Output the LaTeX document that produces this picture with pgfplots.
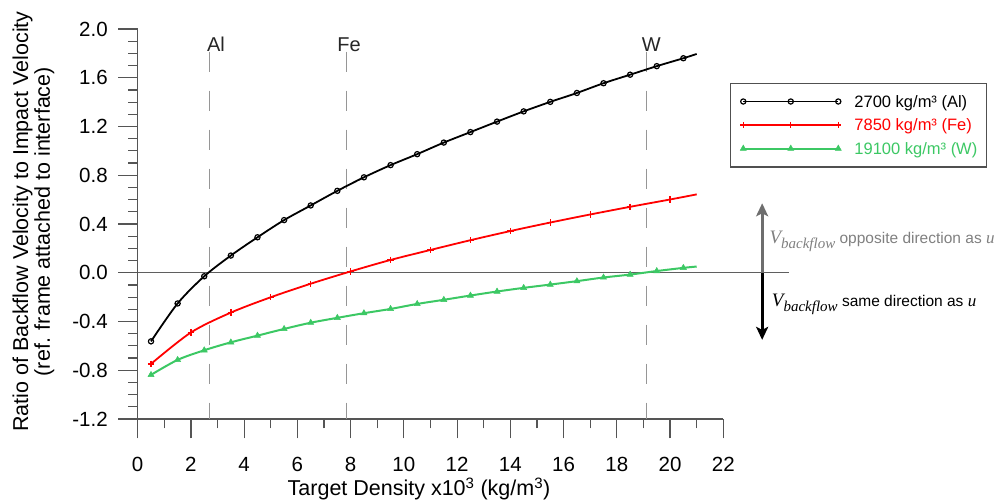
\documentclass[border=0pt]{standalone}
\usepackage{fontspec}
\setmainfont{Liberation Sans}
\newfontfamily\serifit{Liberation Serif}
\usepackage{pgfplots}
\pgfplotsset{compat=1.18}
\usetikzlibrary{arrows.meta}
\definecolor{axisgray}{RGB}{85,85,85}
\definecolor{zerogray}{RGB}{95,95,95}
\definecolor{dashgray}{RGB}{150,150,150}
\definecolor{legendgray}{RGB}{80,80,80}
\definecolor{arrowgray}{RGB}{110,110,110}
\definecolor{textgray}{RGB}{128,128,128}
\definecolor{wgreen}{RGB}{60,200,100}
\definecolor{fered}{RGB}{255,0,0}
\begin{document}
\begin{tikzpicture}[x=1pt,y=1pt]
\begin{axis}[
  at={(137.7pt,83pt)}, anchor=south west,
  scale only axis, width=585.6pt, height=390pt,
  xmin=0, xmax=22, ymin=-1.2, ymax=2.0,
  axis line style={draw=none},
  xtick pos=lower, ytick pos=left,
  clip=false,
  xtick={0,2,...,22}, minor x tick num=1,
  ytick={-1.2,-0.8,-0.4,0,0.4,0.8,1.2,1.6,2.0}, minor y tick num=3,
  tick align=outside,
  major tick length=19.5pt, minor tick length=9.5pt,
  tick style={draw=axisgray, line width=1.2pt},
  /pgf/number format/assume math mode=true,
  tick label style={font=\fontsize{20.5}{24}\selectfont, text=black},
  yticklabel style={xshift=-7pt, /pgf/number format/.cd, fixed, fixed zerofill, precision=1},
  xticklabel style={yshift=-15pt, /pgf/number format/.cd, fixed, precision=0},
  every axis x label/.style={at={(axis description cs:0.4804,-0.197)}, anchor=base, inner sep=0pt, font=\fontsize{21.5}{24}\selectfont},
  every axis y label/.style={at={(axis description cs:-0.178,0.506)}, rotate=90, anchor=center, align=center, inner sep=0pt, font=\fontsize{21.5}{21.7}\selectfont},
  xlabel={Target Density x10\textsuperscript{3} (kg/m\textsuperscript{3})},
  ylabel={Ratio of Backflow Velocity to Impact Velocity\\(ref. frame attached to interface)},
  legend style={at={(1.0114,0.8628)}, anchor=north west, draw=legendgray, line width=1.2pt, fill=white,
    inner xsep=9.5pt, inner ysep=12.5pt, row sep=11.75pt, font=\fontsize{16.5}{19}\selectfont,
    nodes={inner sep=0pt, text height=11.8pt, text depth=0pt},
    /tikz/every odd column/.append style={column sep=13pt}},
  legend cell align=left,
  legend image code/.code={\draw[mark repeat=1,mark phase=1] plot coordinates {(0pt,0pt) (47.5pt,0pt) (95pt,0pt)};},
]
\draw[axisgray, line width=1.2pt] (rel axis cs:0,1) -- (rel axis cs:0,0) -- (rel axis cs:1,0);
\draw[zerogray, line width=1.3pt] (axis cs:0,0) -- (axis cs:24.48,0);
\foreach \xx in {2.7,7.85,19.1}{
  \edef\tmp{\noexpand\draw[dashgray, line width=1.2pt, dash pattern=on 20pt off 19pt] (axis cs:\xx,1.814) -- (axis cs:\xx,-1.2);}\tmp
}
\addplot[black, line width=1.8pt, smooth, mark=o, mark size=2.6pt, mark indices={1,...,21}, mark options={line width=1.2pt, solid}] table {
x y
0.5 -0.563
1.5 -0.252
2.5 -0.029
3.5 0.141
4.5 0.291
5.5 0.432
6.5 0.552
7.5 0.672
8.5 0.783
9.5 0.883
10.5 0.973
11.5 1.068
12.5 1.154
13.5 1.240
14.5 1.324
15.5 1.402
16.5 1.475
17.5 1.555
18.5 1.625
19.5 1.695
20.5 1.760
21 1.795
};
\addlegendentry{2700 kg/m³ (Al)}
\addplot[fered, line width=1.8pt, smooth, mark=+, mark size=3.2pt, mark indices={1,...,14}, mark options={line width=1.3pt, solid}] table {
x y
0.5 -0.748
2.0 -0.490
3.5 -0.327
5.0 -0.201
6.5 -0.090
8.0 0.011
9.5 0.105
11.0 0.187
12.5 0.267
14.0 0.342
15.5 0.412
17.0 0.478
18.5 0.541
20.0 0.601
21 0.643
};
\addlegendentry{\textcolor{fered}{7850 kg/m³ (Fe)}}
\addplot[wgreen, line width=2pt, smooth, mark=triangle*, mark size=3.5pt, mark indices={1,...,21}, mark options={line width=0.5pt, solid}] table {
x y
0.5 -0.838
1.5 -0.715
2.5 -0.636
3.5 -0.571
4.5 -0.516
5.5 -0.461
6.5 -0.410
7.5 -0.370
8.5 -0.332
9.5 -0.297
10.5 -0.256
11.5 -0.222
12.5 -0.187
13.5 -0.154
14.5 -0.124
15.5 -0.097
16.5 -0.069
17.5 -0.039
18.5 -0.015
19.5 0.014
20.5 0.040
21 0.051
};
\addlegendentry{\textcolor{wgreen}{19100 kg/m³ (W)}}
\node[anchor=base, inner sep=0pt, font=\fontsize{20}{24}\selectfont, text=black!85] at (axis cs:2.94,1.814) {Al};
\node[anchor=base, inner sep=0pt, font=\fontsize{20}{24}\selectfont, text=black!85] at (axis cs:7.94,1.814) {Fe};
\node[anchor=base, inner sep=0pt, font=\fontsize{20}{24}\selectfont, text=black!85] at (axis cs:19.30,1.814) {W};
\draw[arrowgray, line width=3pt, -{Stealth[length=13pt,width=12pt,inset=3pt]}] (axis cs:23.46,0) -- (axis cs:23.46,0.57);
\draw[black, line width=3pt, -{Stealth[length=13pt,width=12pt,inset=3pt]}] (axis cs:23.46,0) -- (axis cs:23.46,-0.551);
\node[anchor=base west, inner sep=0pt, text=textgray] at (axis cs:23.73,0.242) {{\serifit\itshape\fontsize{19}{22}\selectfont V}\raisebox{-5pt}{\serifit\itshape\fontsize{15}{18}\selectfont backflow}\fontsize{15.5}{18}\selectfont\ opposite direction as {\serifit\itshape\fontsize{17}{20}\selectfont u}};
\node[anchor=base west, inner sep=0pt, text=black] at (axis cs:23.82,-0.278) {{\serifit\itshape\fontsize{19}{22}\selectfont V}\raisebox{-5pt}{\serifit\itshape\fontsize{15}{18}\selectfont backflow}\fontsize{15.5}{18}\selectfont\ same direction as {\serifit\itshape\fontsize{17}{20}\selectfont u}};
\end{axis}
\pgfresetboundingbox
\path[use as bounding box] (0pt,0pt) rectangle (1002pt,502pt);
\end{tikzpicture}
\end{document}
